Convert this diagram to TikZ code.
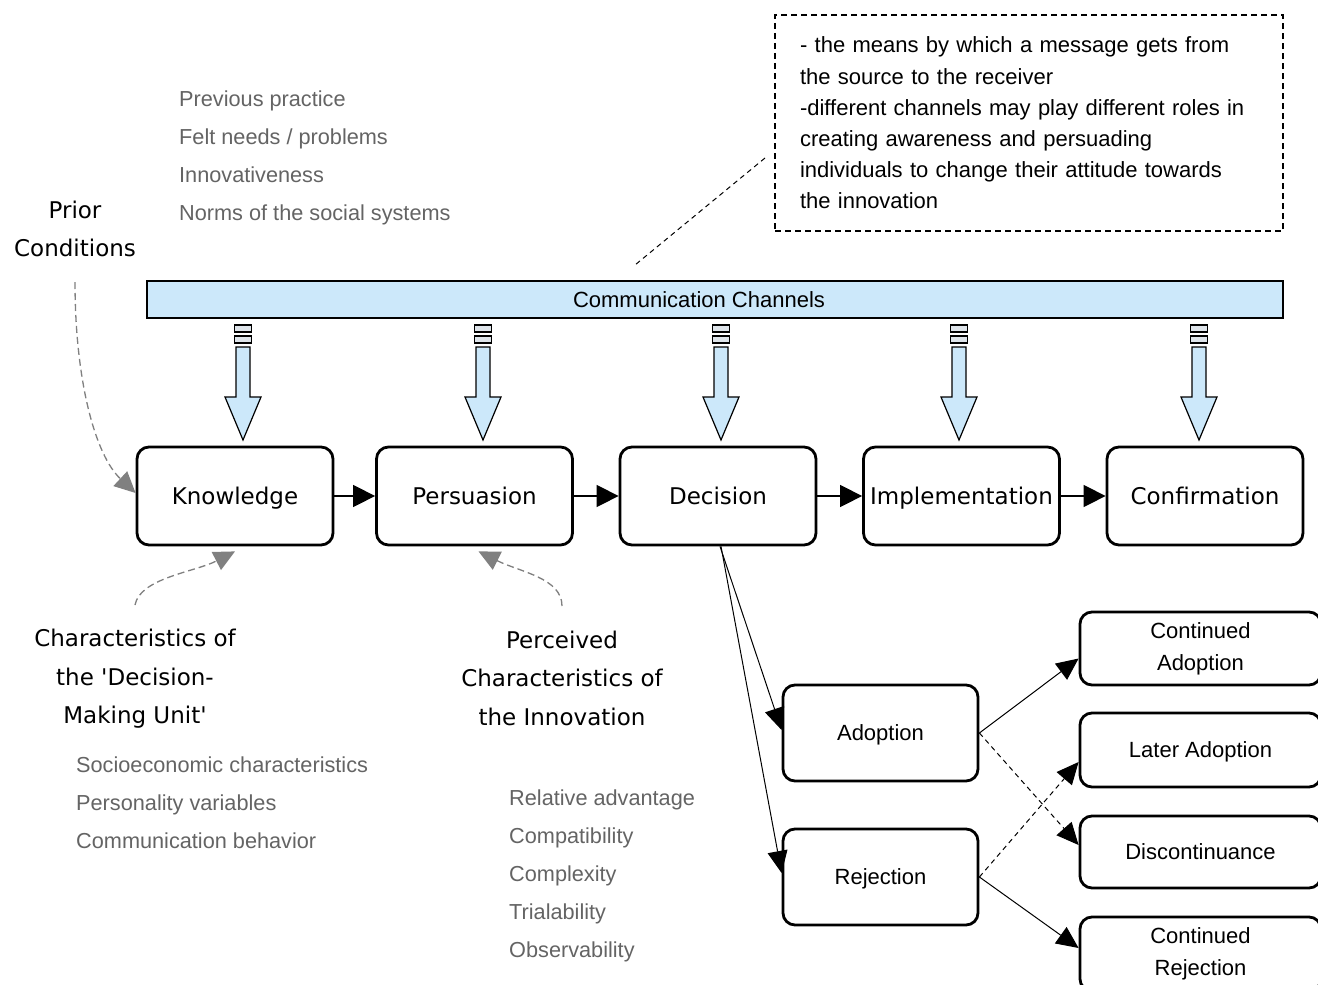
\documentclass[tikz,border=0pt]{standalone}
\usepackage{fontspec}
\setmainfont{Liberation Sans}
\newfontfamily\dejavu{DejaVu Sans}
\usetikzlibrary{arrows.meta,calc}
\definecolor{chan}{RGB}{204,232,250}
\definecolor{chanrect}{RGB}{222,228,234}
\definecolor{graytext}{RGB}{100,100,100}
\definecolor{grayarrow}{RGB}{128,128,128}
\begin{document}
\begin{tikzpicture}[x=1pt,y=-1pt,
  stage/.style={draw,line width=2.8pt,rounded corners=12pt,minimum width=196pt,minimum height=98pt,inner sep=0pt,text height=16.8pt,text depth=0pt,font=\dejavu\fontsize{23}{28}\selectfont},
  outcome/.style={draw,line width=2.8pt,rounded corners=12pt,inner sep=0pt,align=center,font=\fontsize{22}{32}\selectfont},
  oneline/.style={text height=15.8pt,text depth=0pt},
  blacklabel/.style={align=center,inner sep=0pt,font=\dejavu\fontsize{23}{38.5}\selectfont},
  graylist/.style={anchor=base west,inner sep=0pt,text=graytext,font=\fontsize{21.7}{25}\selectfont},
  flow/.style={line width=1.5pt,-{Triangle[length=22pt,width=22pt]}},
  thinflow/.style={line width=1pt,-{Triangle[length=22pt,width=20pt]}},
  thindash/.style={line width=1pt,dash pattern=on 5pt off 4pt,-{Triangle[length=22pt,width=20pt]}},
  grayconn/.style={draw=grayarrow,line width=1.3pt,dash pattern=on 7pt off 4pt,-{Triangle[length=21pt,width=20pt,fill=grayarrow]}},
  chanline/.style={draw=black,line width=1.2pt,fill=chan},
]
\useasboundingbox (0,0) rectangle (1318,985);
\clip (0,0) rectangle (1318,985);
\fill[white] (0,0) rectangle (1318,985);

% note box
\node[draw,line width=1.5pt,dash pattern=on 6pt off 4pt,minimum width=508pt,minimum height=216pt,
      inner xsep=25pt,inner ysep=0pt,text width=458pt,align=left,font=\fontsize{22}{31.2}\selectfont] (note) at (1029,123)
  {- the means by which a message gets from\\the source to the receiver\\-different channels may play different roles in\\creating awareness and persuading\\individuals to change their attitude towards\\the innovation};
\coordinate (ns) at (765,158);
\coordinate (ne) at (635,265);
\draw[line width=1pt,dash pattern=on 5pt off 4pt] (ns) -- (ne);

% prior conditions
\node[blacklabel] (prior) at (75,229) {Prior\\Conditions};
\foreach \t [count=\i] in {Previous practice, Felt needs / problems, Innovativeness, Norms of the social systems}
  \node[graylist] (pc\i) at (179,68.5+38*\i) {\t};

% communication channels
\node[draw,line width=1.5pt,fill=chan,minimum width=1136pt,minimum height=37pt,inner sep=0pt] (cc) at (715,299.5) {};
\node[inner sep=0pt,font=\fontsize{22}{26}\selectfont] (cct) at (699,300) {Communication Channels};

\foreach \c in {243,483,721,959,1199}{
  \draw[line width=1.2pt,fill=chanrect] (\c-8.5,325) rectangle (\c+8.5,332);
  \draw[line width=1.2pt,fill=chanrect] (\c-8.5,336) rectangle (\c+8.5,343);
  \draw[chanline] (\c-7,347) -- (\c+7,347) -- (\c+7,397) -- (\c+18,397) -- (\c,440) -- (\c-18,397) -- (\c-7,397) -- cycle;
}

% stages
\node[stage] (k) at (235,496) {Knowledge};
\node[stage] (p) at (474.5,496) {Persuasion};
\node[stage] (d) at (718,496) {Decision};
\node[stage] (i) at (961.5,496) {Implementation};
\node[stage] (c) at (1205,496) {Confirmation};
\draw[flow] (k.east) -- (p.west);
\draw[flow] (p.east) -- (d.west);
\draw[flow] (d.east) -- (i.west);
\draw[flow] (i.east) -- (c.west);

% decision outcomes
\node[outcome,oneline,minimum width=195pt,minimum height=96pt] (a) at (880.5,733) {Adoption};
\node[outcome,oneline,minimum width=195pt,minimum height=96pt] (r) at (880.5,877) {Rejection};
\node[outcome,minimum width=241pt,minimum height=73pt] (ca) at (1200.5,648.5) {Continued\\Adoption};
\node[outcome,oneline,minimum width=241pt,minimum height=74pt] (la) at (1200.5,750) {Later Adoption};
\node[outcome,oneline,minimum width=241pt,minimum height=72pt] (dc) at (1200.5,852) {Discontinuance};
\node[outcome,minimum width=241pt,minimum height=74pt] (cr) at (1200.5,954) {Continued\\Rejection};

\draw[thinflow] ($(d.south)+(2,0)$) -- ($(a.west)+(0,-3)$);
\draw[thinflow] ($(d.south)+(3,0)$) -- ($(r.west)+(0,-4)$);
\draw[thinflow] (a.east) -- ($(ca.west)+(0,10)$);
\draw[thindash] (a.east) -- ($(dc.west)+(0,-7)$);
\draw[thindash] (r.east) -- ($(la.west)+(0,12)$);
\draw[thinflow] (r.east) -- ($(cr.west)+(0,-6)$);

% characteristics of DMU
\node[blacklabel] (dmu) at (135,679) {Characteristics of\\the 'Decision-\\Making Unit'};
\foreach \t [count=\i] in {Socioeconomic characteristics, Personality variables, Communication behavior}
  \node[graylist] (du\i) at (76,734.5+38*\i) {\t};

% perceived characteristics
\node[blacklabel] (pci) at (562,678) {Perceived\\Characteristics of\\the Innovation};
\foreach \t [count=\i] in {Relative advantage, Compatibility, Complexity, Trialability, Observability}
  \node[graylist] (in\i) at (509,767.5+38*\i) {\t};

% gray dashed influence arrows
\coordinate (pcs) at (75,282);
\coordinate (dus) at (135,605);
\coordinate (ins) at (562,606);
\draw[grayconn] (pcs) .. controls (75,380) and (95,455) .. ($(k.west)+(0,-3)$);
\draw[grayconn] (dus) .. controls (140,578) and (195,572) .. ($(k.south)+(0,5)$);
\draw[grayconn] (ins) .. controls (562,578) and (520,572) .. ($(p.south)+(4,5)$);
\end{tikzpicture}
\end{document}
